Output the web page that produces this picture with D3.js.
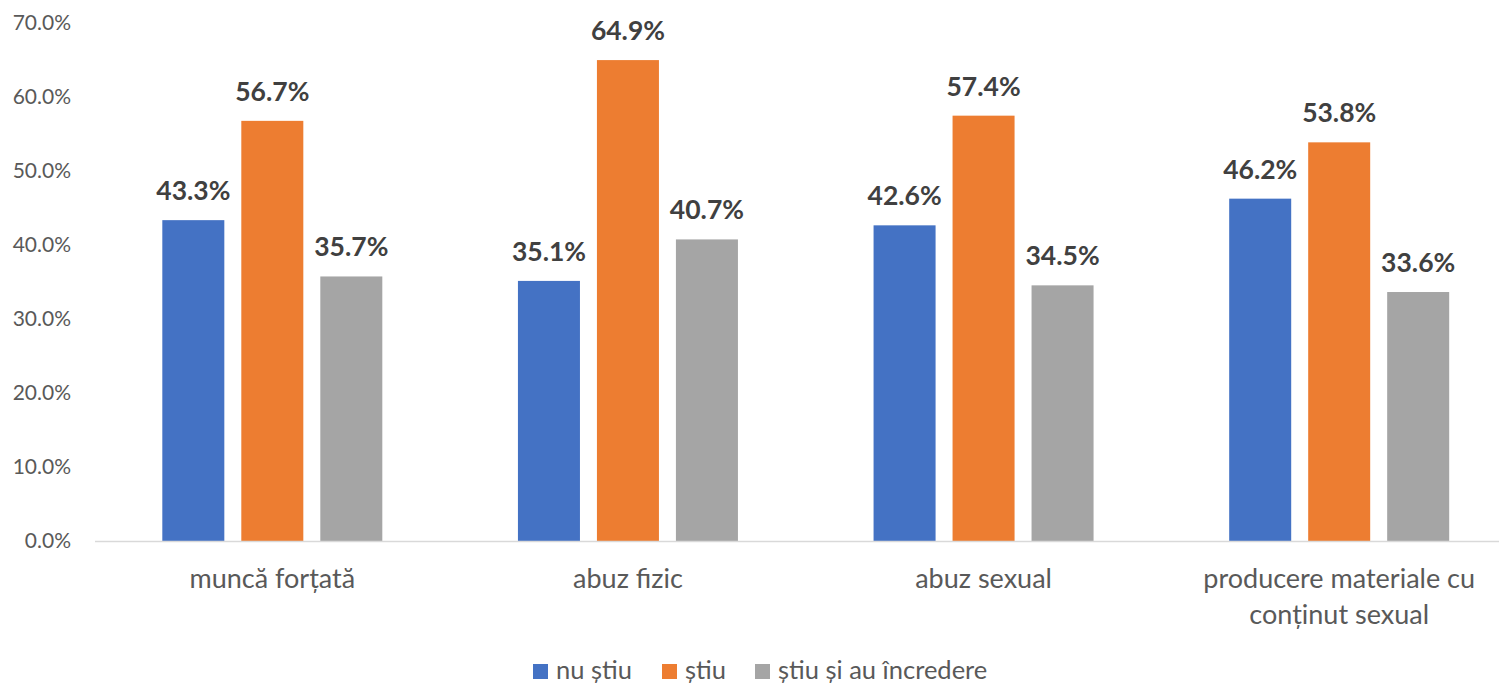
<!DOCTYPE html>
<html>
<head>
<meta charset="utf-8">
<script src="https://cdn.jsdelivr.net/npm/d3@7"></script>
<style>
  body { margin: 0; background: #fff; }
  svg { display: block; font-family: Lato, "Open Sans", sans-serif; }
</style>
</head>
<body>
<div id="chart"></div>
<script>
// values, in percent
const categories = ["muncă forțată", "abuz fizic", "abuz sexual", "producere materiale cu conținut sexual"]
const series = ["nu știu", "știu", "știu și au încredere"]
const nuStiu = [43.3, 35.1, 42.6, 46.2]
const stiu = [56.7, 64.9, 57.4, 53.8]
const stiuIncredere = [35.7, 40.7, 34.5, 33.6]
const yTicks = [0, 10, 20, 30, 40, 50, 60, 70]
const colors = ["#4472C4", "#ED7D31", "#A5A5A5"]

const width = 1499, height = 686
const values = [nuStiu, stiu, stiuIncredere]

const svg = d3.select("#chart").append("svg")
  .attr("width", width)
  .attr("height", height)

// plot area runs past the right edge (the original is cropped there)
const x0 = d3.scaleBand()
  .domain(categories)
  .range([94.5, 1517])

const groupWidth = 220
const x1 = d3.scaleBand()
  .domain(series)
  .range([0, groupWidth])
  .paddingInner(0.215)

const y = d3.scaleLinear()
  .domain([0, 70])
  .range([541, 22.3])

// y axis labels, no line
const yAxis = svg.append("g")
  .attr("transform", "translate(95,0)")
  .call(d3.axisLeft(y).tickValues(yTicks).tickSize(0).tickPadding(24).tickFormat(d => d.toFixed(1) + "%"))
yAxis.select(".domain").remove()
yAxis.selectAll("text")
  .attr("fill", "#595959")
  .style("font-size", "21px")
  .style("font-family", "Lato, sans-serif")

// bars
const groups = svg.append("g")
  .selectAll("g")
  .data(categories)
  .join("g")
  .attr("transform", d => `translate(${x0(d) + x0.bandwidth() / 2 - groupWidth / 2},0)`)

groups.selectAll("rect")
  .data((d, i) => series.map((s, j) => ({ s: s, v: values[j][i], c: colors[j] })))
  .join("rect")
  .attr("x", d => x1(d.s))
  .attr("width", x1.bandwidth())
  .attr("y", d => y(d.v))
  .attr("height", d => y(0) - y(d.v))
  .attr("fill", d => d.c)

groups.selectAll("text")
  .data((d, i) => series.map((s, j) => ({ s: s, v: values[j][i] })))
  .join("text")
  .attr("x", d => x1(d.s) + x1.bandwidth() / 2)
  .attr("y", d => y(d.v) - 20)
  .attr("text-anchor", "middle")
  .attr("fill", "#404040")
  .style("font-size", "26.5px")
  .style("font-weight", "bold")
  .text(d => d.v.toFixed(1) + "%")

// category axis with baseline
const xAxis = svg.append("g")
  .attr("transform", `translate(0,${y(0)})`)
  .call(d3.axisBottom(x0).tickSize(0).tickPadding(0))
xAxis.select(".domain").attr("stroke", "#D9D9D9").attr("stroke-width", 1.5)
xAxis.selectAll("text").remove()

xAxis.selectAll(".tick").each(function (d) {
  const t = d3.select(this).append("text")
    .attr("text-anchor", "middle")
    .attr("fill", "#595959")
    .style("font-size", "27px")
    .style("font-family", "Lato, sans-serif")
  // wrap long labels into lines of about 300px
  const words = d.split(" ")
  let lines = [], line = []
  words.forEach(w => {
    line.push(w)
    if (line.join(" ").length > 24) {
      line.pop()
      lines.push(line.join(" "))
      line = [w]
    }
  })
  lines.push(line.join(" "))
  lines.forEach((l, i) => {
    t.append("tspan").attr("x", 0).attr("y", 47 + i * 36).text(l)
  })
})

// legend
const legendX = [533, 662, 755]
const legend = svg.append("g")
  .selectAll("g")
  .data(series)
  .join("g")
  .attr("transform", (d, i) => `translate(${legendX[i]},664)`)
legend.append("rect")
  .attr("width", 15)
  .attr("height", 15)
  .attr("fill", (d, i) => colors[i])
legend.append("text")
  .attr("x", 23)
  .attr("y", 15)
  .attr("fill", "#595959")
  .style("font-size", "25.5px")
  .text(d => d)
</script>
</body>
</html>
